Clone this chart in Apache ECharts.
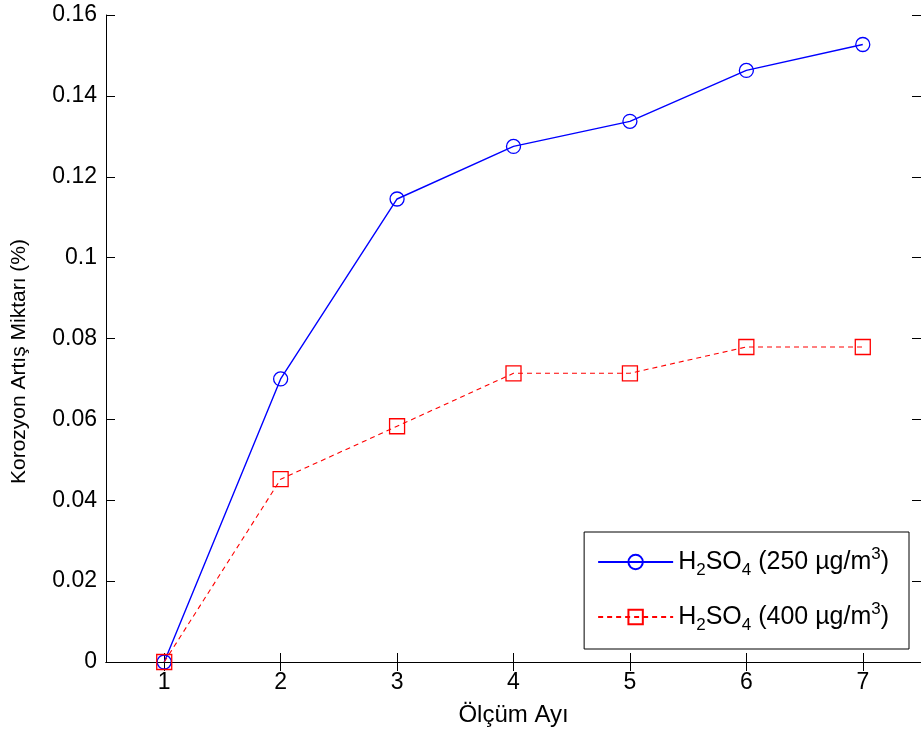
<!DOCTYPE html>
<html>
<head>
<meta charset="utf-8">
<script src="https://cdn.jsdelivr.net/npm/echarts@6/dist/echarts.min.js"></script>
<style>html,body{margin:0;padding:0;background:#fff}#c{width:921px;height:738px}</style>
</head>
<body>
<div id="c"></div>
<script>
var months = ['1', '2', '3', '4', '5', '6', '7'];
var yTicks = [0, 0.02, 0.04, 0.06, 0.08, 0.1, 0.12, 0.14, 0.16];
var series250 = [0, 0.0700, 0.1145, 0.1275, 0.1337, 0.1463, 0.1527];
var series400 = [0, 0.0452, 0.0583, 0.0714, 0.0714, 0.0779, 0.0779];
var names = ['H2SO4 (250 µg/m3)', 'H2SO4 (400 µg/m3)'];
var legendRich = {
  '250': '{n|H}{s|2}{n|SO}{s|4}{n| (250 µg/m}{p|3}{n|)}',
  '400': '{n|H}{s|2}{n|SO}{s|4}{n| (400 µg/m}{p|3}{n|)}'
};

var chart = echarts.init(document.getElementById('c'), null, {renderer: 'canvas'});
var font = 'Liberation Sans, Arial, sans-serif';
var tick = {show: true, inside: true, length: 9, lineStyle: {color: '#000', width: 1}};
var axLine = {show: true, lineStyle: {color: '#000', width: 1}};
chart.setOption({
  animation: false,
  backgroundColor: '#fff',
  grid: {left: 106, right: -6, top: 15, bottom: 76, containLabel: false},
  xAxis: [{
    type: 'category', data: months, boundaryGap: true, position: 'bottom',
    name: 'Ölçüm Ayı', nameLocation: 'middle', nameGap: 41,
    nameTextStyle: {fontFamily: font, fontSize: 24, color: '#000'},
    axisLine: axLine, axisTick: Object.assign({alignWithLabel: true}, tick),
    axisLabel: {fontFamily: font, fontSize: 23, color: '#000', margin: 9},
    splitLine: {show: false}
  }, {
    type: 'category', data: months, boundaryGap: true, position: 'top',
    axisLine: axLine, axisTick: Object.assign({alignWithLabel: true}, tick),
    axisLabel: {show: false}, splitLine: {show: false}
  }],
  yAxis: [{
    type: 'value', min: 0, max: 0.16, interval: 0.02, position: 'left',
    name: 'Korozyon Artış Miktarı (%)', nameLocation: 'middle', nameGap: 76, nameRotate: 90,
    nameTextStyle: {fontFamily: font, fontSize: 21, color: '#000', padding: [0, 46, 0, 0]},
    axisLine: axLine, axisTick: tick,
    axisLabel: {fontFamily: font, fontSize: 23, color: '#000', margin: 9,
      formatter: function (v) { var i = yTicks.indexOf(Math.round(v * 100) / 100); return i >= 0 ? String(yTicks[i]) : ''; }},
    splitLine: {show: false}
  }, {
    type: 'value', min: 0, max: 0.16, interval: 0.02, position: 'right',
    axisLine: axLine, axisTick: tick, axisLabel: {show: false}, splitLine: {show: false}
  }],
  legend: {
    orient: 'vertical', right: 12, top: 532,
    padding: [13, 20, 15, 13], itemGap: 21,
    itemWidth: 75, itemHeight: 18,
    borderColor: '#000', borderWidth: 1, backgroundColor: '#fff',
    data: names,
    formatter: function (name) { return name.indexOf('250') >= 0 ? legendRich['250'] : legendRich['400']; },
    textStyle: {
      fontFamily: font, fontSize: 25, color: '#000',
      rich: {
        n: {fontFamily: font, fontSize: 25, color: '#000', lineHeight: 34, verticalAlign: 'middle'},
        s: {fontFamily: font, fontSize: 17, color: '#000', lineHeight: 34, verticalAlign: 'bottom'},
        p: {fontFamily: font, fontSize: 17, color: '#000', lineHeight: 34, verticalAlign: 'top', padding: [1, 0, 0, 0]}
      }
    }
  },
  series: [{
    name: names[0], type: 'line', data: series250,
    symbol: 'circle', symbolSize: 14,
    itemStyle: {color: 'rgba(255,255,255,0)', borderColor: '#0000ff', borderWidth: 1.3},
    lineStyle: {color: '#0000ff', width: 1.4, type: 'solid'},
    z: 3
  }, {
    name: names[1], type: 'line', data: series400,
    symbol: 'rect', symbolSize: 15,
    itemStyle: {color: 'rgba(255,255,255,0)', borderColor: '#ff0000', borderWidth: 1.3},
    lineStyle: {color: '#ff0000', width: 1.1, type: [5, 4]},
    z: 4
  }]
});
</script>
</body>
</html>
